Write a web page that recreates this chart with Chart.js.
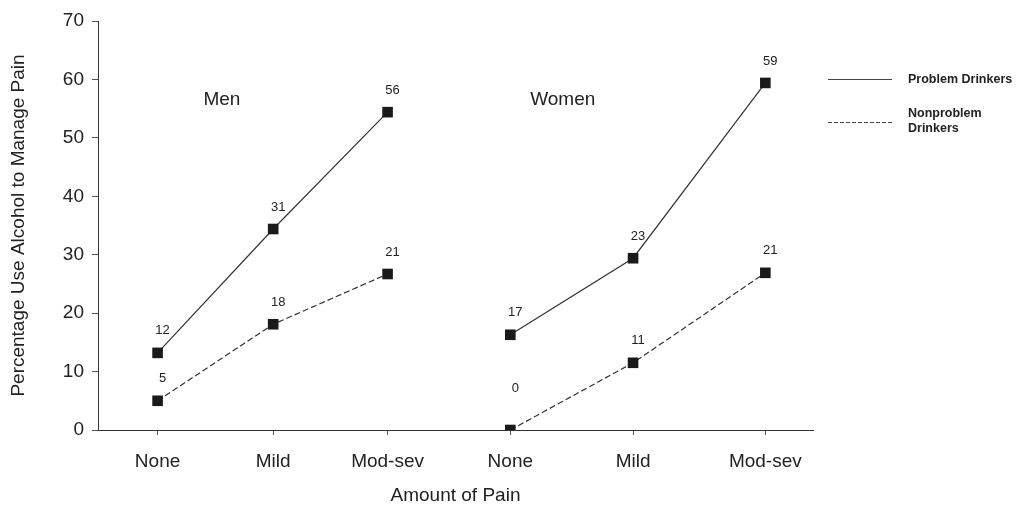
<!DOCTYPE html>
<html>
<head>
<meta charset="utf-8">
<script src="https://cdn.jsdelivr.net/npm/chart.js@4"></script>
<style>
  html, body { margin: 0; padding: 0; background: #fff; }
  #wrap { width: 1016px; height: 507px; }
</style>
</head>
<body>
<div id="wrap"><canvas id="painChart"></canvas></div>
<script>
const categories = ['None', 'Mild', 'Mod-sev', 'None', 'Mild', 'Mod-sev'];
// where each pain level sits along the axis (category units, as drawn)
const categoryPos = [0, 0.97, 1.93, 2.96, 3.99, 5.1];
const yTicks = [0, 10, 20, 30, 40, 50, 60, 70];

// plotted heights (as drawn) and the printed labels
const menProblem = [13.2, 34.4, 54.4, null, null, null];
const menNonproblem = [5.0, 18.1, 26.7, null, null, null];
const womenProblem = [null, null, null, 16.3, 29.4, 59.4];
const womenNonproblem = [null, null, null, 0, 11.5, 26.9];

const menProblemLabels = ['12', '31', '56', null, null, null];
const menNonproblemLabels = ['5', '18', '21', null, null, null];
const womenProblemLabels = [null, null, null, '17', '23', '59'];
const womenNonproblemLabels = [null, null, null, '0', '11', '21'];

const FONT = '"Liberation Sans", Arial, Helvetica, sans-serif';
const INK = '#222';

function lineSet(values, labels, dashed) {
  const pts = [];
  const lbl = [];
  values.forEach((v, i) => {
    if (v === null) return;
    pts.push({ x: categoryPos[i], y: v });
    lbl.push(labels[i]);
  });
  return {
    data: pts,
    pointLabels: lbl,
    borderColor: '#333',
    borderWidth: 1.2,
    borderDash: dashed ? [6, 3] : [],
    pointStyle: 'rect',
    pointRadius: 7.5,
    pointHoverRadius: 7.5,
    pointBackgroundColor: '#1a1a1a',
    pointBorderColor: '#1a1a1a',
    pointBorderWidth: 0,
    fill: false,
    tension: 0
  };
}

const extras = {
  id: 'extras',
  afterDatasetsDraw(chart) {
    const ctx = chart.ctx;
    const xs = chart.scales.x, ys = chart.scales.y;
    ctx.save();
    ctx.fillStyle = INK;

    // value labels over the points
    ctx.font = '13px ' + FONT;
    ctx.textAlign = 'center';
    ctx.textBaseline = 'middle';
    chart.data.datasets.forEach((ds, di) => {
      const meta = chart.getDatasetMeta(di);
      ds.data.forEach((d, i) => {
        const p = meta.data[i];
        const lift = d.y === 0 ? 42 : 22;
        ctx.fillText(ds.pointLabels[i], p.x + 5, p.y - lift);
      });
    });

    // group captions
    ctx.font = '19px ' + FONT;
    ctx.fillText('Men', xs.getPixelForValue(0.54), ys.getPixelForValue(56.5));
    ctx.fillText('Women', xs.getPixelForValue(3.4), ys.getPixelForValue(56.5));

    // legend
    ctx.strokeStyle = '#444';
    ctx.lineWidth = 1;
    ctx.beginPath();
    ctx.moveTo(828, 79.5); ctx.lineTo(892, 79.5);
    ctx.stroke();
    ctx.setLineDash([4, 2]);
    ctx.beginPath();
    ctx.moveTo(828, 122.5); ctx.lineTo(892, 122.5);
    ctx.stroke();
    ctx.setLineDash([]);
    ctx.font = 'bold 12.5px ' + FONT;
    ctx.textAlign = 'left';
    ctx.fillText('Problem Drinkers', 908, 80);
    ctx.fillText('Nonproblem', 908, 114);
    ctx.fillText('Drinkers', 908, 129);
    ctx.restore();
  }
};

new Chart(document.getElementById('painChart'), {
  type: 'line',
  data: {
    datasets: [
      lineSet(menProblem, menProblemLabels, false),
      lineSet(womenProblem, womenProblemLabels, false),
      lineSet(menNonproblem, menNonproblemLabels, true),
      lineSet(womenNonproblem, womenNonproblemLabels, true)
    ]
  },
  options: {
    responsive: true,
    maintainAspectRatio: false,
    animation: false,
    layout: { padding: { left: 0, right: 203, top: 21, bottom: 0 } },
    plugins: {
      legend: { display: false },
      tooltip: { enabled: false }
    },
    scales: {
      x: {
        type: 'linear',
        min: -0.5,
        max: 5.5,
        afterFit(scale) { scale.height = 77; },
        afterBuildTicks(scale) { scale.ticks = categoryPos.map(v => ({ value: v })); },
        grid: { drawOnChartArea: false, drawTicks: true, tickLength: 5, color: '#555' },
        border: { display: true, color: '#333', width: 1 },
        ticks: {
          color: INK,
          font: { family: FONT, size: 19 },
          padding: 15,
          maxRotation: 0,
          autoSkip: false,
          callback: (v, i) => categories[i]
        },
        title: { display: true, text: 'Amount of Pain', color: INK, font: { family: FONT, size: 19 }, padding: { top: 0, bottom: 0 } }
      },
      y: {
        min: 0,
        max: 70,
        afterFit(scale) { scale.width = 98; },
        afterBuildTicks(scale) { scale.ticks = yTicks.map(v => ({ value: v })); },
        grid: { drawOnChartArea: false, drawTicks: true, tickLength: 6, color: '#555' },
        border: { display: true, color: '#333', width: 1 },
        ticks: { color: INK, font: { family: FONT, size: 19 }, padding: 8 },
        title: { display: true, text: 'Percentage Use Alcohol to Manage Pain', color: INK, font: { family: FONT, size: 19 }, padding: { top: 7, bottom: 0 } }
      }
    }
  },
  plugins: [extras]
});
</script>
</body>
</html>
